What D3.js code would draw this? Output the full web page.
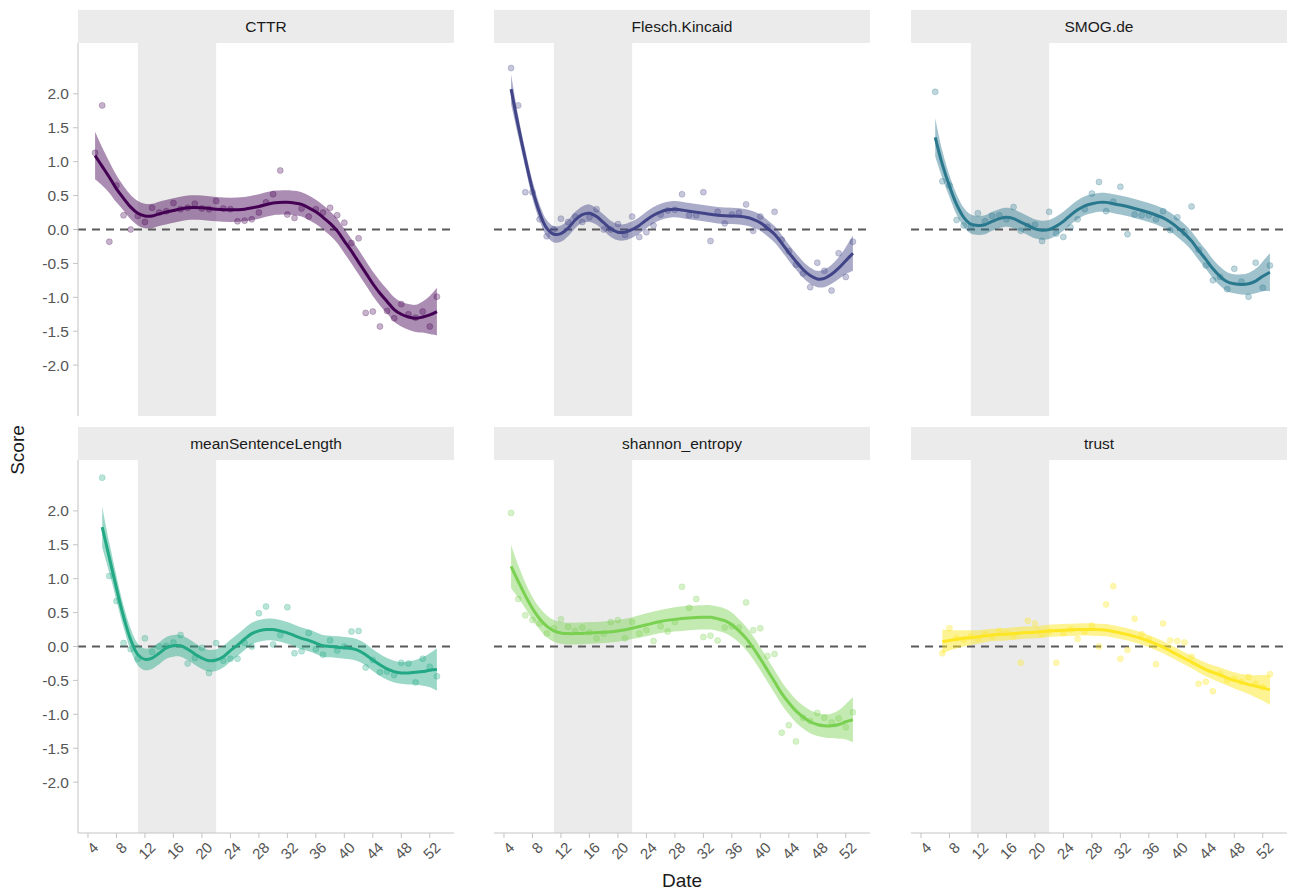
<!DOCTYPE html>
<html><head><meta charset="utf-8">
<script src="https://cdn.jsdelivr.net/npm/d3@7"></script>
<style>body{margin:0;background:#fff;} svg{display:block;font-family:"Liberation Sans",Arial,Helvetica,sans-serif;}</style>
</head><body><svg id="c" width="1289" height="896"></svg>
<script>
// ---------- data ----------
const panelNames = ["CTTR","Flesch.Kincaid","SMOG.de","meanSentenceLength","shannon_entropy","trust"];
const panelColors = ["#440154","#414487","#2A788E","#22A884","#7AD151","#FDE725"];
const xTicks = [4,8,12,16,20,24,28,32,36,40,44,48,52];
const yTicks = [2.0,1.5,1.0,0.5,0.0,-0.5,-1.0,-1.5,-2.0];
const shadeWeeks = [11,22];
const pointStart = [5,5,6,6,5,7];

const ptsCTTR = [1.13,1.83,-0.18,0.65,0.21,0.00,0.20,0.11,0.32,0.25,0.27,0.39,0.30,0.32,0.38,0.31,0.30,0.42,0.31,0.30,0.12,0.13,0.15,0.25,0.40,0.52,0.87,0.22,0.17,0.31,0.19,0.30,0.25,0.32,0.21,0.10,-0.20,-0.13,-1.23,-1.21,-1.43,-1.20,-1.31,-1.10,-1.25,-1.30,-1.21,-1.43,-0.99];
const ptsFlesch = [2.38,1.83,0.55,0.55,0.15,-0.10,0.00,0.16,0.11,0.19,0.11,0.18,0.30,0.00,0.00,0.08,-0.08,0.19,-0.11,-0.04,0.06,0.22,0.28,0.29,0.52,0.21,0.21,0.55,-0.17,0.26,0.09,0.22,0.25,0.37,-0.02,0.19,0.04,0.26,-0.15,-0.32,-0.52,-0.65,-0.85,-0.49,-0.61,-0.90,-0.35,-0.70,-0.18];
const ptsSMOG = [2.03,0.71,0.65,0.14,0.06,0.05,0.24,0.12,0.20,0.21,0.15,0.33,-0.02,0.05,0.07,-0.17,0.26,-0.06,-0.11,0.03,0.15,0.30,0.53,0.70,0.27,0.41,0.63,-0.07,0.22,0.21,0.21,0.15,0.27,-0.01,0.18,-0.05,0.34,-0.30,-0.53,-0.75,-0.70,-0.88,-0.58,-0.77,-0.99,-0.49,-0.86,-0.53];
const ptsMSL = [2.49,1.04,0.67,0.05,-0.04,-0.18,0.12,-0.08,0.00,0.01,0.06,0.17,-0.25,-0.17,-0.02,-0.39,0.05,-0.21,-0.18,-0.18,0.05,0.00,0.49,0.59,0.03,0.17,0.58,-0.10,-0.07,0.20,-0.04,-0.12,0.09,-0.06,0.00,0.22,0.23,-0.31,-0.20,-0.38,-0.37,-0.42,-0.24,-0.25,-0.53,-0.18,-0.30,-0.44];
const ptsShannon = [1.97,0.70,0.46,0.39,0.34,0.19,0.27,0.40,0.29,0.23,0.28,0.21,0.12,0.19,0.36,0.39,0.12,0.36,0.19,0.24,0.08,0.30,0.22,0.36,0.88,0.57,0.70,0.14,0.16,0.09,0.28,0.30,0.28,0.65,0.24,0.27,-0.14,-0.11,-1.27,-1.16,-1.40,-1.05,-1.10,-0.98,-1.05,-1.12,-1.06,-1.19,-0.97];
const ptsTrust = [-0.10,0.27,0.12,0.10,0.15,0.12,0.18,0.15,0.23,0.20,0.15,-0.24,0.38,0.34,0.18,0.22,-0.24,0.20,0.25,0.11,0.22,0.31,0.00,0.62,0.89,-0.18,-0.05,0.41,0.18,0.10,-0.26,0.34,0.09,0.08,0.06,-0.15,-0.55,-0.52,-0.66,-0.40,-0.50,-0.48,-0.52,-0.45,-0.55,-0.60,-0.41];

const fitWeeksCTTR = [5,6,7,8,9,10,11,12,13,14,16,18,20,22,24,26,28,30,32,33,34,35,36,37,38,39,40,41,42,43,44,45,46,47,48,49,50,51,52,53];
const fitCTTR = [1.09,0.93,0.77,0.60,0.46,0.33,0.24,0.20,0.20,0.23,0.28,0.32,0.32,0.30,0.29,0.30,0.34,0.39,0.40,0.39,0.37,0.32,0.26,0.18,0.09,-0.02,-0.17,-0.32,-0.48,-0.64,-0.80,-0.94,-1.06,-1.18,-1.25,-1.29,-1.31,-1.29,-1.26,-1.21];
const seCTTR = [0.35,0.28,0.23,0.20,0.18,0.18,0.18,0.18,0.18,0.18,0.18,0.18,0.18,0.18,0.18,0.18,0.18,0.18,0.18,0.18,0.18,0.18,0.18,0.18,0.18,0.18,0.18,0.18,0.18,0.18,0.18,0.18,0.18,0.18,0.18,0.19,0.20,0.23,0.28,0.35];

const fitWeeksFlesch = [5,6,7,8,9,10,11,12,13,14,15,16,17,18,19,20,21,22,23,24,25,26,27,28,30,32,34,36,38,39,40,41,42,43,44,45,46,47,48,49,50,51,52,53];
const fitFlesch = [2.07,1.53,1.04,0.59,0.25,0.02,-0.07,-0.06,0.02,0.14,0.22,0.24,0.19,0.10,0.01,-0.04,-0.04,0.00,0.06,0.14,0.21,0.26,0.29,0.30,0.27,0.24,0.21,0.20,0.18,0.15,0.10,0.02,-0.07,-0.20,-0.34,-0.47,-0.59,-0.68,-0.73,-0.72,-0.66,-0.57,-0.46,-0.35];
const seFlesch = [0.22,0.15,0.13,0.13,0.12,0.12,0.12,0.12,0.12,0.12,0.12,0.13,0.12,0.12,0.12,0.12,0.12,0.12,0.12,0.12,0.12,0.12,0.12,0.12,0.12,0.12,0.12,0.12,0.12,0.12,0.12,0.12,0.12,0.12,0.12,0.12,0.12,0.12,0.12,0.13,0.14,0.16,0.20,0.26];

const fitWeeksSMOG = [6,7,8,9,10,11,12,13,14,15,16,17,18,19,20,21,22,23,24,25,26,27,28,29,30,31,32,34,36,38,39,40,41,42,43,44,45,46,47,48,49,50,51,52,53];
const fitSMOG = [1.36,0.96,0.64,0.37,0.18,0.08,0.06,0.07,0.12,0.16,0.18,0.16,0.11,0.06,0.01,-0.01,0.00,0.05,0.12,0.21,0.29,0.35,0.38,0.40,0.40,0.38,0.36,0.31,0.25,0.17,0.11,0.03,-0.06,-0.17,-0.31,-0.44,-0.58,-0.69,-0.77,-0.80,-0.81,-0.80,-0.76,-0.69,-0.63];
const seSMOG = [0.28,0.20,0.16,0.15,0.14,0.14,0.14,0.14,0.14,0.14,0.14,0.14,0.14,0.14,0.14,0.14,0.14,0.14,0.14,0.14,0.14,0.14,0.14,0.14,0.14,0.14,0.14,0.14,0.14,0.14,0.14,0.14,0.14,0.14,0.14,0.14,0.14,0.14,0.14,0.14,0.15,0.16,0.18,0.22,0.28];

const fitWeeksMSL = [6,7,8,9,10,11,12,13,14,15,16,17,18,19,20,21,22,23,24,25,26,27,28,29,30,31,32,33,34,35,36,37,38,39,40,41,42,43,44,45,46,47,48,49,50,51,52,53];
const fitMSL = [1.76,1.31,0.86,0.44,0.10,-0.12,-0.19,-0.17,-0.10,-0.02,0.01,0.01,-0.04,-0.11,-0.17,-0.21,-0.20,-0.15,-0.06,0.02,0.11,0.19,0.23,0.25,0.25,0.23,0.20,0.16,0.12,0.09,0.05,0.01,0.00,-0.01,-0.02,-0.03,-0.06,-0.12,-0.20,-0.27,-0.33,-0.37,-0.39,-0.39,-0.38,-0.37,-0.35,-0.34];
const seMSL = [0.30,0.22,0.18,0.16,0.16,0.16,0.16,0.16,0.16,0.16,0.16,0.16,0.16,0.16,0.16,0.16,0.16,0.16,0.16,0.16,0.16,0.16,0.16,0.16,0.16,0.16,0.16,0.16,0.16,0.16,0.16,0.16,0.16,0.16,0.16,0.16,0.16,0.16,0.16,0.16,0.16,0.16,0.16,0.17,0.18,0.21,0.25,0.31];

const fitWeeksShannon = [5,6,7,8,9,10,11,12,13,14,16,18,20,22,24,26,28,30,32,33,34,35,36,37,38,39,40,41,42,43,44,45,46,47,48,49,50,51,52,53];
const fitShannon = [1.18,0.96,0.75,0.56,0.41,0.30,0.23,0.20,0.19,0.19,0.20,0.21,0.23,0.27,0.32,0.37,0.40,0.42,0.43,0.43,0.41,0.38,0.32,0.23,0.12,-0.02,-0.18,-0.35,-0.52,-0.69,-0.83,-0.95,-1.04,-1.11,-1.15,-1.17,-1.17,-1.15,-1.11,-1.08];
const seShannon = [0.32,0.24,0.19,0.17,0.16,0.16,0.16,0.16,0.16,0.16,0.16,0.16,0.16,0.16,0.17,0.17,0.18,0.18,0.18,0.18,0.18,0.18,0.18,0.17,0.17,0.17,0.17,0.17,0.17,0.17,0.17,0.17,0.17,0.17,0.17,0.17,0.18,0.21,0.26,0.33];

const fitWeeksTrust = [7,8,10,12,14,16,18,20,22,24,26,28,30,32,34,36,38,40,42,44,46,48,50,52,53];
const fitTrust = [0.07,0.09,0.12,0.14,0.17,0.18,0.20,0.21,0.23,0.24,0.25,0.25,0.24,0.20,0.15,0.08,-0.01,-0.12,-0.23,-0.34,-0.42,-0.50,-0.56,-0.61,-0.64];
const seTrust = [0.18,0.15,0.12,0.10,0.09,0.09,0.09,0.09,0.09,0.09,0.09,0.09,0.09,0.09,0.09,0.09,0.09,0.09,0.09,0.10,0.11,0.12,0.14,0.19,0.22];

const panelPoints = [ptsCTTR, ptsFlesch, ptsSMOG, ptsMSL, ptsShannon, ptsTrust];
const panelFitWeeks = [fitWeeksCTTR, fitWeeksFlesch, fitWeeksSMOG, fitWeeksMSL, fitWeeksShannon, fitWeeksTrust];
const panelFit = [fitCTTR, fitFlesch, fitSMOG, fitMSL, fitShannon, fitTrust];
const panelSE = [seCTTR, seFlesch, seSMOG, seMSL, seShannon, seTrust];

// ---------- layout ----------
const svg = d3.select("#c");
const colX = [78, 494, 911];
const rowTop = [10, 427];
const stripH = 33, panelW = 376, panelH = 373;
const x = d3.scaleLinear().domain([2.6, 55.4]).range([0, panelW]);
const y = d3.scaleLinear().domain([-2.75, 2.75]).range([panelH, 0]);
const fmt = v => v.toFixed(1);

panelNames.forEach((name, i) => {
  const col = i % 3, row = Math.floor(i / 3);
  const g = svg.append("g").attr("transform", `translate(${colX[col]},${rowTop[row] + stripH})`);
  const color = panelColors[i];

  // strip
  g.append("rect").attr("x", 0).attr("y", -stripH).attr("width", panelW).attr("height", stripH).attr("fill", "#ebebeb");
  g.append("text").attr("x", panelW / 2).attr("y", -stripH / 2).attr("dy", "0.35em")
    .attr("text-anchor", "middle").attr("font-size", 15.5).attr("fill", "#1a1a1a").text(name);

  // shaded period
  g.append("rect").attr("x", x(shadeWeeks[0])).attr("y", 0)
    .attr("width", x(shadeWeeks[1]) - x(shadeWeeks[0])).attr("height", panelH).attr("fill", "#ebebeb");

  // zero line
  g.append("line").attr("x1", 0).attr("x2", panelW).attr("y1", y(0)).attr("y2", y(0))
    .attr("stroke", "#5a5a5a").attr("stroke-width", 2).attr("stroke-dasharray", "8,6");

  // ribbon
  const fw = panelFitWeeks[i], fv = panelFit[i], se = panelSE[i];
  const fitData = fw.map((w, k) => ({w, v: fv[k], s: se[k]}));
  const curve = d3.curveCatmullRom.alpha(0.5);
  g.append("path").datum(fitData)
    .attr("d", d3.area().curve(curve).x(d => x(d.w)).y0(d => y(d.v - d.s)).y1(d => y(d.v + d.s)))
    .attr("fill", color).attr("fill-opacity", i === 5 ? 0.5 : 0.45);

  // points
  const pts = panelPoints[i].map((v, k) => ({w: pointStart[i] + k, v}));
  g.append("g").selectAll("circle").data(pts).join("circle")
    .attr("cx", d => x(d.w)).attr("cy", d => y(d.v)).attr("r", 3)
    .attr("fill", color).attr("fill-opacity", i === 5 ? 0.35 : 0.3)
    .attr("stroke", color).attr("stroke-opacity", 0.3).attr("stroke-width", 0.8);

  // fit line
  g.append("path").datum(fitData)
    .attr("d", d3.line().curve(curve).x(d => x(d.w)).y(d => y(d.v)))
    .attr("fill", "none").attr("stroke", color).attr("stroke-width", 3);

  // y axis (left column)
  if (col === 0) {
    g.append("line").attr("x1", 0).attr("x2", 0).attr("y1", 0).attr("y2", panelH)
      .attr("stroke", "#c4c4c4").attr("stroke-width", 1);
    yTicks.forEach(t => {
      g.append("line").attr("x1", -5).attr("x2", 0).attr("y1", y(t)).attr("y2", y(t))
        .attr("stroke", "#c4c4c4");
      g.append("text").attr("x", -9).attr("y", y(t)).attr("dy", "0.35em").attr("text-anchor", "end")
        .attr("font-size", 15.5).attr("fill", "#555").text(fmt(t));
    });
  }
  // x axis (bottom row)
  if (row === 1) {
    g.append("line").attr("x1", 0).attr("x2", panelW).attr("y1", panelH).attr("y2", panelH)
      .attr("stroke", "#c4c4c4").attr("stroke-width", 1);
    xTicks.forEach(t => {
      g.append("line").attr("x1", x(t)).attr("x2", x(t)).attr("y1", panelH).attr("y2", panelH + 5)
        .attr("stroke", "#c4c4c4");
      g.append("text").attr("transform", `translate(${x(t) + 4},${panelH + 8}) rotate(-45)`)
        .attr("dy", "0.71em").attr("text-anchor", "end")
        .attr("font-size", 15).attr("fill", "#555").text(t);
    });
  }
});

// axis titles
svg.append("text").attr("transform", "translate(24,450) rotate(-90)").attr("text-anchor", "middle")
  .attr("font-size", 19).attr("fill", "#1a1a1a").text("Score");
svg.append("text").attr("x", 682).attr("y", 887).attr("text-anchor", "middle")
  .attr("font-size", 19).attr("fill", "#1a1a1a").text("Date");
</script></body></html>
